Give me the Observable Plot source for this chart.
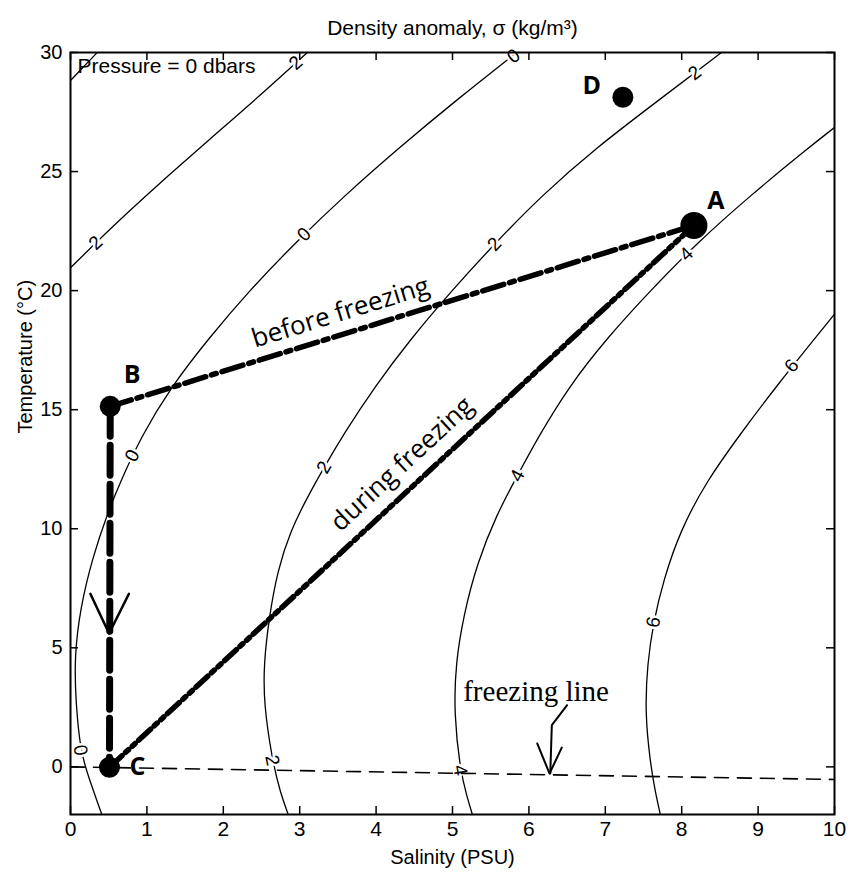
<!DOCTYPE html>
<html><head><meta charset="utf-8">
<script src="https://cdn.jsdelivr.net/npm/d3@7"></script>
<script src="https://cdn.jsdelivr.net/npm/@observablehq/plot@0.6"></script>
<style>body{margin:0;background:#fff}</style>
</head><body><div id="chart"></div>
<script>
// ---- data ----
const xTicks = [0,1,2,3,4,5,6,7,8,9,10];
const yTicks = [0,5,10,15,20,25,30];

// density-anomaly contours, [salinity, temperature]
const sigmaMinus4 = [[0,28.82],[0.17,29.4],[0.35,30]];
const sigmaMinus2 = [[0,20.96],[0.6,22.85],[1.2,24.6],[1.8,26.3],[2.45,28.1],[3.1,30]];
const sigma0 = [[0.41,-2],[0.22,-0.28],[0.13,0.70],[0.07,2.66],[0.05,4.61],[0.13,6.71],[0.29,8.8],[0.48,10.62],[0.66,12.02],[0.92,13.84],[1.31,15.93],[1.81,18],[2.34,20],[2.94,22],[3.59,24],[4.30,26],[5.05,28],[5.84,30]];
const sigma2 = [[2.85,-2],[2.75,-1.12],[2.64,0.28],[2.53,2.66],[2.53,4.34],[2.60,6.29],[2.71,8.25],[2.88,9.92],[3.10,11.32],[3.32,12.58],[3.58,14],[3.99,16],[4.46,18],[4.99,20],[5.56,22],[6.17,24],[6.88,26],[7.70,28],[8.52,30]];
const sigma4 = [[5.26,-2],[5.19,-1.26],[5.10,-0.14],[5.02,2.24],[5.04,4.34],[5.15,6.43],[5.32,8.53],[5.58,10.62],[5.85,12.23],[6.13,13.9],[6.53,16],[7.02,18],[7.59,20],[8.20,22],[8.90,24],[9.66,26],[10,26.85]];
const sigma6 = [[7.72,-2],[7.65,-0.98],[7.59,0.14],[7.52,2.24],[7.55,4.34],[7.63,6.08],[7.76,7.83],[7.98,9.92],[8.33,12.02],[8.75,13.9],[9.24,16],[10,19.01]];
const contourLevels = [-4,-2,0,2,4,6];
const contourLines = [sigmaMinus4, sigmaMinus2, sigma0, sigma2, sigma4, sigma6];

// inline contour labels
const contourLabelLevel = [-2,-2,0,0,0,0,2,2,2,2,4,4,4,6,6];
const contourLabelText  = ["2","2","0","0","0","0","2","2","2","2","4","4","4","6","6"];
const contourLabelS = [0.33,2.95,5.80,3.06,0.81,0.13,8.17,5.55,3.32,2.64,8.06,5.85,5.10,9.44,7.63];
const contourLabelT = [22.0,29.56,29.84,22.36,13.07,0.70,29.14,21.95,12.58,0.28,21.53,12.23,-0.14,16.84,6.08];

// water-mass points
const pointNames = ["A","B","C","D"];
const pointSalinity = [8.16,0.52,0.51,7.23];
const pointTemperature = [22.74,15.14,-0.02,28.12];

const beforeFreezingPath = ["B","A"];
const duringFreezingPath = ["A","C"];
const coolingPath = ["B","C"];
const coolArrowS = [0.26,0.505,0.765];
const coolArrowT = [7.27,5.6,7.27];

// freezing line and its pointer
const freezingS = [0,10];
const freezingT = [0,-0.53];
const pointerS = [6.50,6.30,6.28];
const pointerT = [2.59,1.75,-0.28];
const pointerHeadS = [6.11,6.27,6.43];
const pointerHeadT = [0.98,-0.28,0.81];

const annotationText = ["before freezing","during freezing"];
const annotationS = [3.535,4.34];
const annotationT = [19.08,12.72];
const freezingLabel = ["freezing line"];
const freezingLabelS = [5.14];
const freezingLabelT = [3.14];

// ---- layout ----
const W = 848, H = 872, mL = 70, mR = 14, mT = 52, mB = 58;
const frameW = W - mL - mR, frameH = H - mT - mB;
const pxS = frameW / 10, pxT = frameH / 32;

const contourRows = contourLines.flatMap((pts, i) => pts.map(p => ({level: contourLevels[i], s: p[0], t: p[1]})));
const points = pointNames.map((n, i) => ({name: n, s: pointSalinity[i], t: pointTemperature[i]}));
const byName = Object.fromEntries(points.map(p => [p.name, p]));
const pathRows = names => names.map(n => byName[n]);
const zip = (S, T) => S.map((s, i) => ({s, t: T[i]}));

function normAngle(a) { if (a > 90) a -= 180; if (a < -90) a += 180; return a; }
function segAngle(a, b) { return normAngle(Math.atan2(-(b.t - a.t) * pxT, (b.s - a.s) * pxS) * 180 / Math.PI); }
function labelAngle(level, s, t) {
  const pts = contourLines[contourLevels.indexOf(level)];
  let best = 0, bd = Infinity;
  pts.forEach((p, i) => { const d = ((p[0]-s)*pxS)**2 + ((p[1]-t)*pxT)**2; if (d < bd) { bd = d; best = i; } });
  const a = pts[Math.max(0, best-1)], b = pts[Math.min(pts.length-1, best+1)];
  return segAngle({s: a[0], t: a[1]}, {s: b[0], t: b[1]});
}
const contourLabels = contourLabelText.map((txt, i) => ({
  text: txt, s: contourLabelS[i], t: contourLabelT[i],
  angle: labelAngle(contourLabelLevel[i], contourLabelS[i], contourLabelT[i])
}));
const annotations = annotationText.map((txt, i) => ({
  text: txt, s: annotationS[i], t: annotationT[i],
  angle: i === 0 ? segAngle(byName.B, byName.A) : segAngle(byName.C, byName.A)
}));

const labelOffsets = {A: [22,-24], B: [22,-31], C: [28,0], D: [-31,-11]};

const sans = "Liberation Sans, Arial, Helvetica, sans-serif";

const plot = Plot.plot({
  width: W, height: H,
  marginLeft: mL, marginRight: mR, marginTop: mT, marginBottom: mB,
  style: {fontFamily: sans, fontSize: "20px", background: "white", color: "black"},
  x: {domain: [0,10]},
  y: {domain: [-2,30]},
  r: {type: "identity"},
  marks: [
    Plot.line(contourRows, {x: "s", y: "t", z: "level", stroke: "black", strokeWidth: 1.3, curve: "basis", clip: true}),
    Plot.text(contourLabels, {x: "s", y: "t", text: "text", rotate: "angle", fontSize: 19, fill: "black", stroke: "white", strokeWidth: 5, fontFamily: sans}),
    Plot.line(zip(freezingS, freezingT), {x: "s", y: "t", stroke: "black", strokeWidth: 1.6, strokeDasharray: "14,9"}),
    Plot.line(zip(pointerS, pointerT), {x: "s", y: "t", stroke: "black", strokeWidth: 2}),
    Plot.line(zip(pointerHeadS, pointerHeadT), {x: "s", y: "t", stroke: "black", strokeWidth: 2}),
    Plot.text(freezingLabel, {x: freezingLabelS, y: freezingLabelT, text: d => d, textAnchor: "start", lineAnchor: "middle", fontFamily: "Liberation Serif, Times New Roman, serif", fontSize: 29}),
    Plot.line(pathRows(coolingPath), {x: "s", y: "t", stroke: "black", strokeWidth: 7, strokeDasharray: "30,9"}),
    Plot.line(pathRows(beforeFreezingPath), {x: "s", y: "t", stroke: "black", strokeWidth: 5.5, strokeDasharray: "22,6,5,6"}),
    Plot.line(pathRows(duringFreezingPath), {x: "s", y: "t", stroke: "black", strokeWidth: 5.5, strokeDasharray: "16,5,4,5,4,5"}),
    Plot.line(zip(coolArrowS, coolArrowT), {x: "s", y: "t", stroke: "black", strokeWidth: 2.5}),
    Plot.dot(points, {x: "s", y: "t", r: d => d.name === "A" ? 13.5 : 10.5, fill: "black"}),
    ...pointNames.map(n => Plot.text(points.filter(p => p.name === n), {x: "s", y: "t", text: "name", dx: labelOffsets[n][0], dy: labelOffsets[n][1], fontFamily: "Open Sans, DejaVu Sans, sans-serif", fontWeight: "bold", fontSize: 25})),
    Plot.text(annotations, {x: "s", y: "t", text: "text", rotate: "angle", fontFamily: "Open Sans, DejaVu Sans, sans-serif", fontSize: 26, lineAnchor: "middle"}),
    Plot.text(["Pressure = 0 dbars"], {frameAnchor: "top-left", dx: 7, dy: 14, textAnchor: "start", lineAnchor: "middle", fontSize: 21}),
    Plot.text(["Density anomaly, σ (kg/m³)"], {frameAnchor: "top", dy: -24, lineAnchor: "middle", fontSize: 21}),
    Plot.text(["Salinity (PSU)"], {frameAnchor: "bottom", dy: 43, lineAnchor: "middle", fontSize: 20}),
    Plot.text(["Temperature (°C)"], {frameAnchor: "left", dx: -45, rotate: -90, lineAnchor: "middle", fontSize: 20}),
    Plot.tickX(xTicks, {x: d => d, insetTop: frameH - 8, strokeWidth: 1.5}),
    Plot.tickX(xTicks, {x: d => d, insetBottom: frameH - 8, strokeWidth: 1.5}),
    Plot.tickY(yTicks, {y: d => d, insetRight: frameW - 8, strokeWidth: 1.5}),
    Plot.tickY(yTicks, {y: d => d, insetLeft: frameW - 8, strokeWidth: 1.5}),
    Plot.axisX({ticks: xTicks, anchor: "bottom", tickSize: 0, tickPadding: 7, fontSize: 21, label: null}),
    Plot.axisY({ticks: yTicks, anchor: "left", tickSize: 0, tickPadding: 8, fontSize: 20, label: null}),
    Plot.frame({stroke: "black", strokeWidth: 2})
  ]
});
document.getElementById("chart").append(plot);
</script></body></html>
